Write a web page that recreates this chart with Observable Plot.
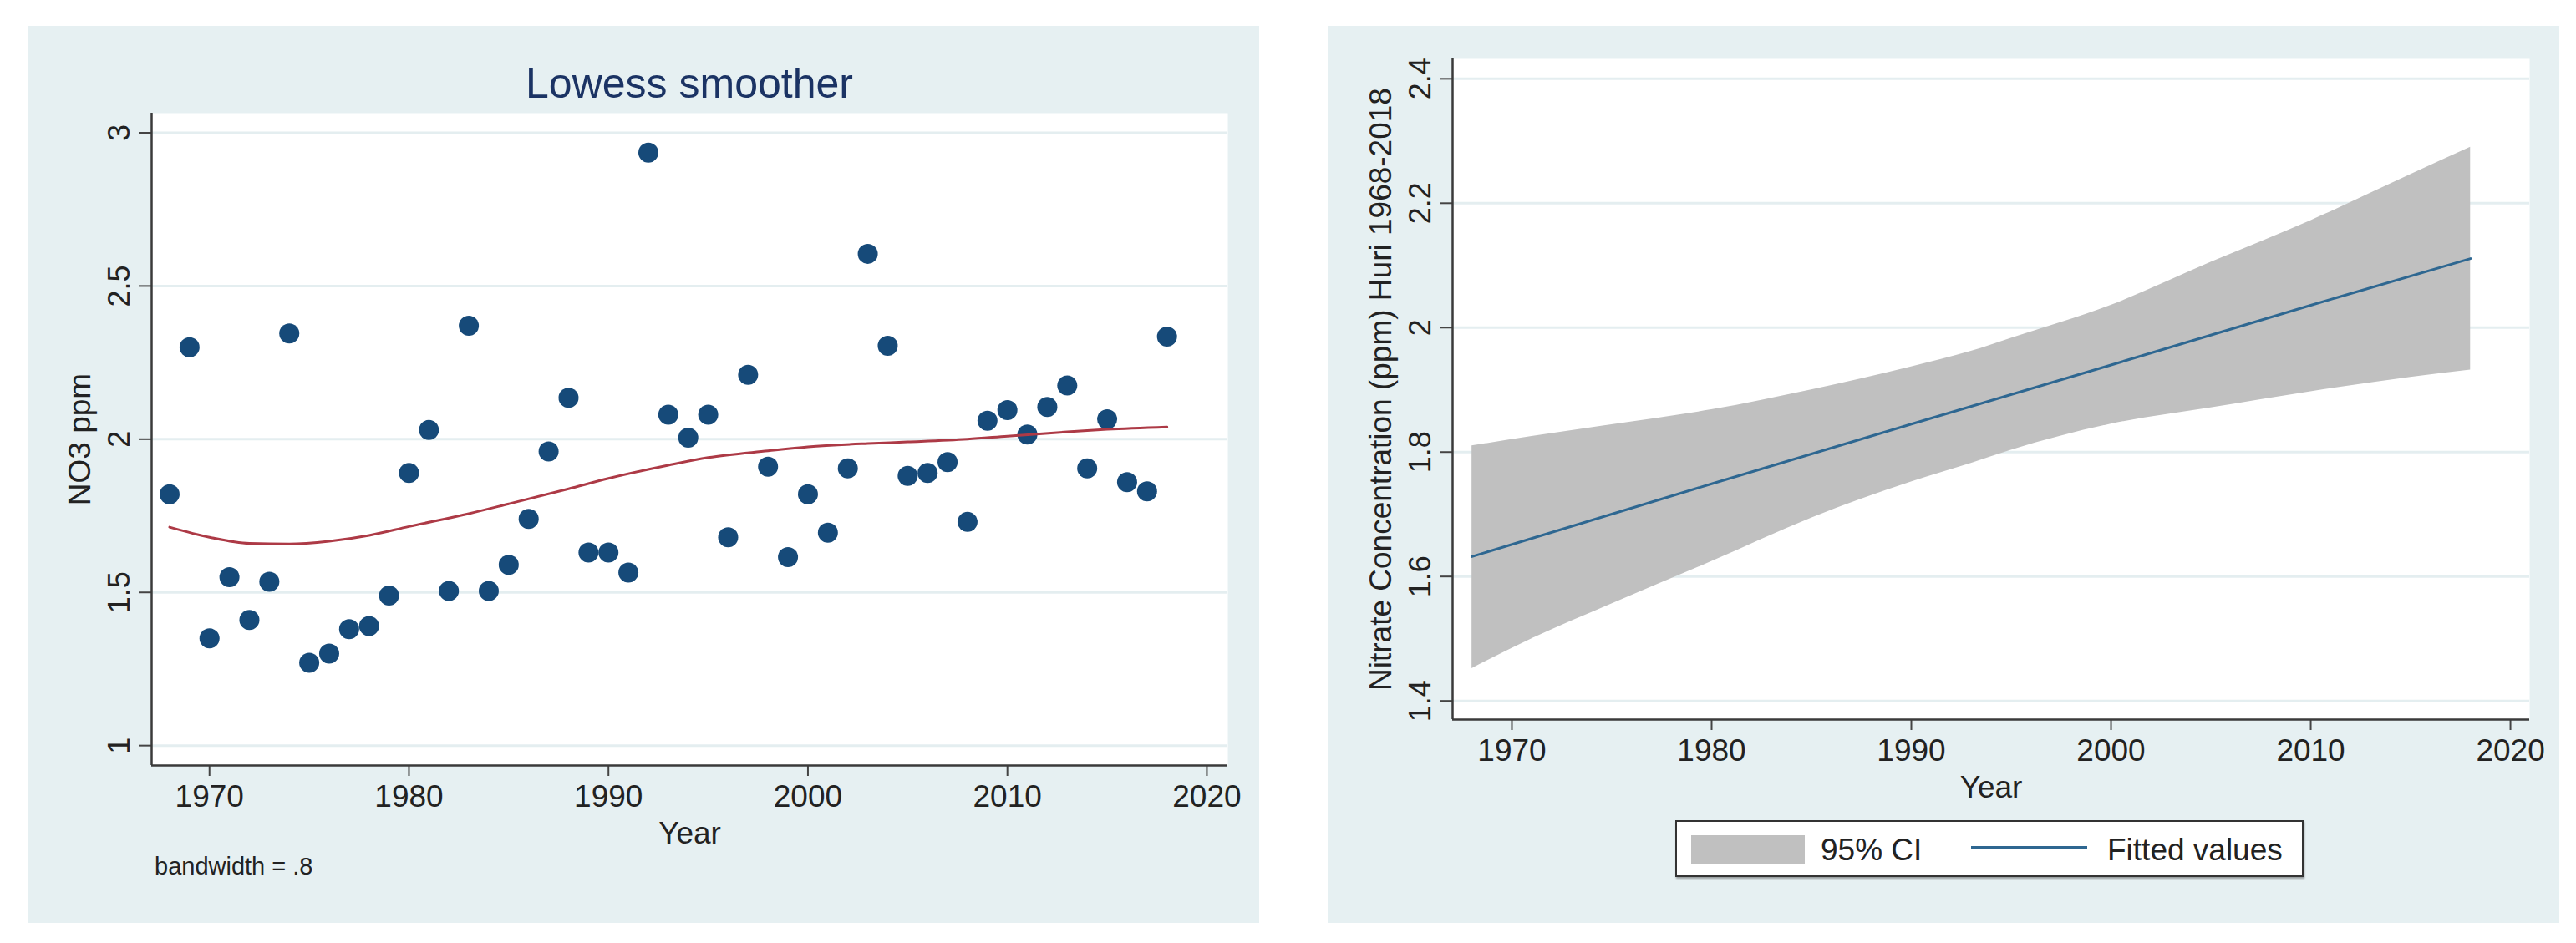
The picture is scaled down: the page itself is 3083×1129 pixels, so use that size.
<!DOCTYPE html>
<html>
<head>
<meta charset="utf-8">
<script src="https://cdn.jsdelivr.net/npm/d3@7"></script>
<script src="https://cdn.jsdelivr.net/npm/@observablehq/plot@0.6"></script>
<style>
  html, body { margin: 0; padding: 0; background: #ffffff; }
  body { width: 3083px; height: 1129px; position: relative; overflow: hidden;
         font-family: "Liberation Sans", Arial, Helvetica, sans-serif; }
  .panel { position: absolute; top: 31px; width: 1474px; height: 1074px; background: #e6f0f2; }
  .chart { position: absolute; left: 0; }
  .title { position: absolute; left: 148px; width: 1288px; top: 44px; text-align: center;
           font-size: 50px; line-height: 1; color: #1b3364; }
  .note { position: absolute; left: 152px; top: 992px; font-size: 29px; line-height: 1; color: #222; }
  .legend { position: absolute; left: 416px; top: 951px; width: 748px; height: 64px;
            background: #fff; border: 2px solid #333; box-shadow: 1px 2px 2px rgba(0,0,0,0.35); }
  .legend .sw { position: absolute; left: 17px; top: 16px; width: 136px; height: 35px; background: #c0c0c0; }
  .legend .ln { position: absolute; left: 352px; top: 29px; width: 139px; height: 3px; background: #2e6791; }
  .legend .t { position: absolute; top: 15px; font-size: 37px; line-height: 1; color: #222; }
</style>
</head>
<body>
<div class="panel" id="left" style="left:33px">
  <div class="title">Lowess smoother</div>
  <div class="chart" id="chartL" style="top:89px"></div>
  <div class="note">bandwidth = .8</div>
</div>
<div class="panel" id="right" style="left:1589px">
  <div class="chart" id="chartR" style="top:9px"></div>
  <div class="legend">
    <div class="sw"></div><div class="t" style="left:172px">95% CI</div>
    <div class="ln"></div><div class="t" style="left:515px">Fitted values</div>
  </div>
</div>
<script>
// ---- Left panel: scatter + lowess ----
const years = [1968,1969,1970,1971,1972,1973,1974,1975,1976,1977,1978,1979,1980,1981,1982,1983,1984,1985,1986,1987,1988,1989,1990,1991,1992,1993,1994,1995,1996,1997,1998,1999,2000,2001,2002,2003,2004,2005,2006,2007,2008,2009,2010,2011,2012,2013,2014,2015,2016,2017,2018];
const no3 = [1.82,2.30,1.35,1.55,1.41,1.535,2.345,1.27,1.30,1.38,1.39,1.49,1.89,2.03,1.505,2.37,1.505,1.59,1.74,1.96,2.135,1.63,1.63,1.565,2.935,2.08,2.005,2.08,1.68,2.21,1.91,1.615,1.82,1.695,1.905,2.605,2.305,1.88,1.89,1.925,1.73,2.06,2.095,2.015,2.105,2.175,1.905,2.065,1.86,1.83,2.335];
const lowessYears = [1968,1970,1972,1974,1976,1978,1980,1983,1985,1988,1990,1993,1995,1998,2000,2003,2005,2008,2010,2013,2015,2018];
const lowessVals = [1.713,1.68,1.66,1.658,1.667,1.686,1.715,1.757,1.789,1.838,1.872,1.915,1.94,1.962,1.975,1.986,1.991,2.0,2.01,2.024,2.032,2.04];
const xTicks = [1970,1980,1990,2000,2010,2020];
const yTicksL = [1,1.5,2,2.5,3];
const xDomainL = [1967.1, 2021.05];
const yDomainL = [0.935, 3.064];

// ---- Right panel: linear fit with 95% CI ----
const ciYears = [1968,1971,1975,1980,1985,1990,1993,1995,2000,2005,2010,2015,2018];
const ciUpper = [1.81,1.825,1.844,1.868,1.900,1.937,1.962,1.983,2.036,2.105,2.172,2.246,2.29];
const ciLower = [1.452,1.50,1.556,1.624,1.694,1.752,1.782,1.803,1.845,1.871,1.897,1.920,1.932];
const fitYears = [1968,1980,1990,2000,2010,2018];
const fitVals = [1.632,1.749,1.845,1.940,2.036,2.111];
const yTicksR = [1.4,1.6,1.8,2,2.2,2.4];
const xDomainR = [1967.03, 2020.96];
const yDomainR = [1.370, 2.432];

const FONT = '"Liberation Sans", Arial, Helvetica, sans-serif';
const pts = years.map((y, i) => ({year: y, v: no3[i]}));
const low = lowessYears.map((y, i) => ({year: y, v: lowessVals[i]}));
const ci = ciYears.map((y, i) => ({year: y, hi: ciUpper[i], lo: ciLower[i]}));
const fit = fitYears.map((y, i) => ({year: y, v: fitVals[i]}));

function axes(yTicks, xDom, yDom, yLabel) {
  return [
    Plot.axisX(xTicks, {tickSize: 13, tickPadding: 10, fontSize: 37, stroke: "#444", strokeWidth: 2,
      tickFormat: d => String(d), label: null}),
    Plot.axisY(yTicks, {tickSize: 15, tickPadding: 12, fontSize: 36, stroke: "#444", strokeWidth: 2,
      tickRotate: -90, tickFormat: d => String(d), label: null}),
    Plot.text(["Year"], {frameAnchor: "bottom", dy: 82, lineAnchor: "middle", fontSize: 37, fill: "#222"}),
    Plot.text([yLabel], {frameAnchor: "left", dx: -85, rotate: -90, lineAnchor: "middle", textAnchor: "middle", fontSize: 37, fill: "#222"}),
    Plot.ruleX([xDom[0]], {stroke: "#3a3a3a", strokeWidth: 2.5}),
    Plot.ruleY([yDom[0]], {stroke: "#3a3a3a", strokeWidth: 2.5})
  ];
}

const left = Plot.plot({
  width: 1474, height: 915,
  marginLeft: 148, marginRight: 38, marginTop: 15, marginBottom: 119,
  x: {domain: xDomainL, label: null}, y: {domain: yDomainL, label: null},
  style: {background: "transparent", fontFamily: FONT, fontSize: "37px", color: "#222"},
  marks: [
    Plot.frame({fill: "white", stroke: "none"}),
    Plot.gridY(yTicksL, {stroke: "#e4eef0", strokeOpacity: 1, strokeWidth: 3}),
    Plot.dot(pts, {x: "year", y: "v", r: 12, fill: "#164a79", stroke: "none"}),
    Plot.line(low, {x: "year", y: "v", stroke: "#ad3a46", strokeWidth: 3, curve: "monotone-x"}),
    ...axes(yTicksL, xDomainL, yDomainL, "NO3 ppm")
  ]
});
document.getElementById("chartL").appendChild(left);

const right = Plot.plot({
  width: 1474, height: 940,
  marginLeft: 149, marginRight: 36, marginTop: 30, marginBottom: 119,
  x: {domain: xDomainR, label: null}, y: {domain: yDomainR, label: null},
  style: {background: "transparent", fontFamily: FONT, fontSize: "37px", color: "#222"},
  marks: [
    Plot.frame({fill: "white", stroke: "none"}),
    Plot.gridY(yTicksR, {stroke: "#e4eef0", strokeOpacity: 1, strokeWidth: 3}),
    Plot.areaY(ci, {x: "year", y1: "lo", y2: "hi", fill: "#c0c0c0", fillOpacity: 1, curve: "monotone-x"}),
    Plot.line(fit, {x: "year", y: "v", stroke: "#2e6791", strokeWidth: 3}),
    ...axes(yTicksR, xDomainR, yDomainR, "Nitrate Concentration (ppm) Huri 1968-2018")
  ]
});
document.getElementById("chartR").appendChild(right);
</script>
</body>
</html>
